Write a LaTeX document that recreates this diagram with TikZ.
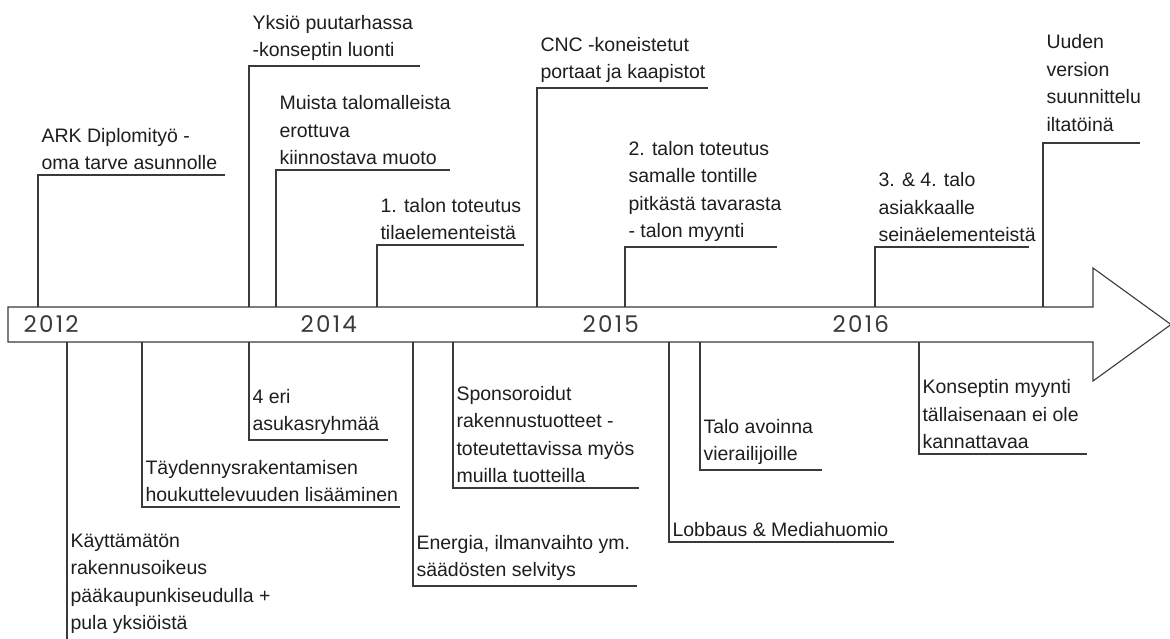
\documentclass[tikz,border=0pt]{standalone}
\usepackage{fontspec}
\setmainfont{Liberation Sans}
\newfontfamily\yearfont[LetterSpace=10]{Poppins}
\usetikzlibrary{positioning}
\definecolor{viiva}{HTML}{3A3A3A}
\definecolor{teksti}{HTML}{1E1E1E}

\begin{document}
\begin{tikzpicture}[x=1pt,y=-1pt,line width=1.1pt,color=viiva,
    txt/.style={inner xsep=3pt,inner ysep=4.5pt,align=left,text=teksti,
      font=\fontsize{19.5}{27.5}\selectfont},
    vuosi/.style={anchor=base west,inner sep=0pt,text=viiva,
      font=\yearfont\fontsize{23}{23}\selectfont}]
  \useasboundingbox (0,0) rectangle (1170,639);
  \fill[white] (0,0) rectangle (1170,639);
  % aikajana
  \draw (8,307) -- (1093,307) -- (1093,268) -- (1171,324.5) -- (1093,381)
        -- (1093,342) -- (8,342) -- cycle;
  \node[vuosi] (v2012) at (23,332) {2012};
  \node[vuosi] (v2014) at (300,332) {2014};
  \node[vuosi] (v2015) at (582,332) {2015};
  \node[vuosi] (v2016) at (832,332) {2016};
  % tapahtumat janan ylapuolella
  \foreach \n/\x/\y/\e in {1/38/175/225, 2/249/66/420, 3/276/170/450,
      4/377/245/524, 5/537/88/708, 6/625/247/777, 7/875/247/1029,
      8/1043/143/1140} {
    \coordinate (u\n) at (\x,307);
    \coordinate (uc\n) at (\x,\y);
    \coordinate (ue\n) at (\e,\y);
    \draw (u\n) -- (uc\n) -- (ue\n);
  }
  \node[txt,above right=0pt of uc1] (ark) {ARK Diplomityö -\\oma tarve asunnolle};
  \node[txt,above right=0pt of uc2] (yksio) {Yksiö puutarhassa\\-konseptin luonti};
  \node[txt,above right=0pt of uc3] (muoto) {Muista talomalleista\\erottuva\\kiinnostava muoto};
  \node[txt,above right=0pt of uc4] (talo1) {1. talon toteutus\\tilaelementeistä};
  \node[txt,above right=0pt of uc5] (cnc) {CNC -koneistetut\\portaat ja kaapistot};
  \node[txt,above right=0pt of uc6] (talo2) {2. talon toteutus\\samalle tontille\\pitkästä tavarasta\\- talon myynti};
  \node[txt,above right=0pt of uc7] (talo34) {3. \& 4. talo\\asiakkaalle\\seinäelementeistä};
  \node[txt,above right=6.5pt and 0pt of uc8] (uusi) {Uuden\\version\\suunnittelu\\iltatöinä};
  % tapahtumat janan alapuolella
  \coordinate (l1) at (67,342);
  \coordinate (lc1) at (67,639);
  \draw (l1) -- (lc1);
  \foreach \n/\x/\y/\e in {2/142/507/400, 3/249/440/388, 4/413/586/637,
      5/453/488/639, 6/669/542/894, 7/700/470/822, 8/919/454/1087} {
    \coordinate (l\n) at (\x,342);
    \coordinate (lc\n) at (\x,\y);
    \coordinate (le\n) at (\e,\y);
    \draw (l\n) -- (lc\n) -- (le\n);
  }
  \node[txt,above right=0pt of lc1] (tontti) {Käyttämätön\\rakennusoikeus\\pääkaupunkiseudulla +\\pula yksiöistä};
  \node[txt,above right=0pt of lc2] (taydennys) {Täydennysrakentamisen\\houkuttelevuuden lisääminen};
  \node[txt,above right=0pt of lc3] (ryhmat) {4 eri\\asukasryhmää};
  \node[txt,above right=0pt of lc4] (energia) {Energia, ilmanvaihto ym.\\säädösten selvitys};
  \node[txt,above right=0pt of lc5] (sponsori) {Sponsoroidut\\rakennustuotteet -\\toteutettavissa myös\\muilla tuotteilla};
  \node[txt,above right=0pt of lc6] (lobbaus) {Lobbaus \& Mediahuomio};
  \node[txt,above right=0pt of lc7] (avoinna) {Talo avoinna\\vierailijoille};
  \node[txt,above right=0pt of lc8] (myynti) {Konseptin myynti\\tällaisenaan ei ole\\kannattavaa};
\end{tikzpicture}
\end{document}
